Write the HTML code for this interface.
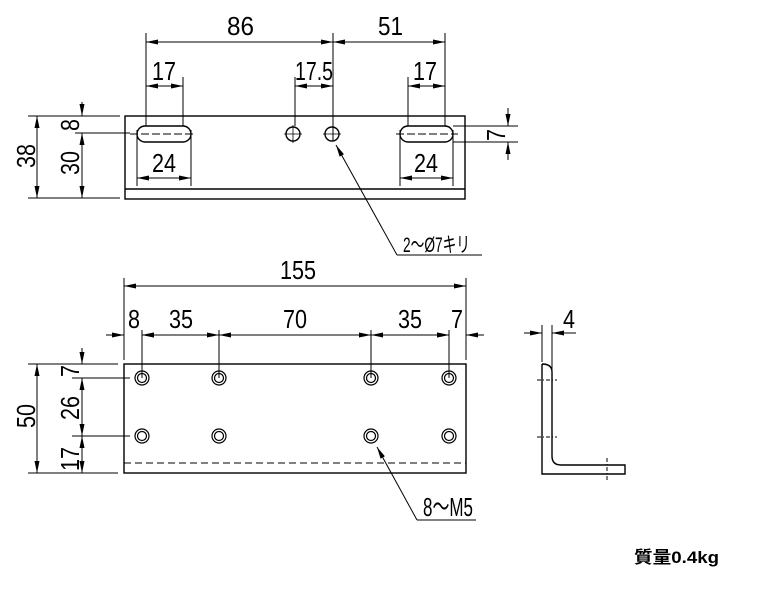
<!DOCTYPE html>
<html><head><meta charset="utf-8"><style>
html,body{margin:0;padding:0;background:#fff;}
svg{display:block}
text{font-family:"Liberation Sans","Noto Sans CJK JP",sans-serif;fill:#000}
</style></head><body>
<svg width="759" height="591" viewBox="0 0 759 591" xmlns="http://www.w3.org/2000/svg">
<defs>
<marker id="a" viewBox="0 0 12 6" refX="12" refY="3" markerWidth="12" markerHeight="6" orient="auto-start-reverse" markerUnits="userSpaceOnUse"><path d="M0,0.5 L12,3 L0,5.5 Z" fill="#000"/></marker>
</defs>
<g stroke="#000" stroke-width="1.4" fill="none">
<rect x="125" y="116" width="340" height="83"/>
<line x1="125" y1="189" x2="465" y2="189"/>
<rect x="137" y="126" width="54" height="16" rx="8"/>
<rect x="400" y="126" width="53" height="16" rx="8"/>
<line x1="130" y1="134" x2="195" y2="134" stroke-dasharray="8,3" stroke-width="1"/>
<line x1="396" y1="134" x2="458" y2="134" stroke-dasharray="8,3" stroke-width="1"/>
<circle cx="293" cy="134" r="7"/><circle cx="332" cy="134" r="7"/>
<g stroke-width="0.8"><line x1="284" y1="134" x2="302" y2="134"/><line x1="293" y1="125" x2="293" y2="143"/><line x1="323" y1="134" x2="341" y2="134"/></g>
<g stroke-width="1">
<line x1="146" y1="33" x2="146" y2="126"/>
<line x1="333" y1="33" x2="333" y2="141"/>
<line x1="445" y1="33" x2="445" y2="126"/>
<line x1="183" y1="77" x2="183" y2="126"/>
<line x1="295" y1="77" x2="295" y2="126"/>
<line x1="408" y1="77" x2="408" y2="126"/>
<line x1="137" y1="130" x2="137" y2="186"/>
<line x1="191" y1="130" x2="191" y2="186"/>
<line x1="400" y1="130" x2="400" y2="186"/>
<line x1="453" y1="130" x2="453" y2="186"/>
<line x1="28" y1="116" x2="120" y2="116"/>
<line x1="28" y1="198" x2="120" y2="198"/>
<line x1="75" y1="133" x2="130" y2="133"/>
<line x1="453" y1="126" x2="518" y2="126"/>
<line x1="453" y1="142" x2="518" y2="142"/>
</g>
<g marker-start="url(#a)" marker-end="url(#a)" stroke-width="1">
<line x1="146" y1="42" x2="333" y2="42"/>
<line x1="333" y1="42" x2="445" y2="42"/>
<line x1="146" y1="86" x2="183" y2="86"/>
<line x1="295" y1="86" x2="333" y2="86"/>
<line x1="408" y1="86" x2="445" y2="86"/>
<line x1="137" y1="178" x2="191" y2="178"/>
<line x1="400" y1="178" x2="453" y2="178"/>
<line x1="37" y1="116" x2="37" y2="198"/>
<line x1="82" y1="133" x2="82" y2="198"/>
</g>
<g stroke-width="1">
<line x1="82" y1="102" x2="82" y2="116" marker-end="url(#a)"/>
<line x1="508" y1="108" x2="508" y2="126" marker-end="url(#a)"/>
<line x1="508" y1="160" x2="508" y2="142" marker-end="url(#a)"/>
<line x1="397" y1="255" x2="336" y2="145" marker-end="url(#a)"/>
<line x1="397" y1="255" x2="482" y2="255"/>
</g>
<rect x="124" y="364" width="342" height="109"/>
<line x1="124" y1="463" x2="466" y2="463" stroke-dasharray="7,4" stroke-width="1"/>
<g stroke-width="1">
<line x1="124" y1="278" x2="124" y2="360"/>
<line x1="466" y1="278" x2="466" y2="360"/>
<line x1="142" y1="330" x2="142" y2="378"/>
<line x1="219" y1="330" x2="219" y2="378"/>
<line x1="371" y1="330" x2="371" y2="378"/>
<line x1="449" y1="330" x2="449" y2="378"/>
<line x1="28" y1="364" x2="118" y2="364"/>
<line x1="28" y1="473" x2="118" y2="473"/>
<line x1="72" y1="378" x2="130" y2="378"/>
<line x1="72" y1="436" x2="130" y2="436"/>
</g>
<g marker-start="url(#a)" marker-end="url(#a)" stroke-width="1">
<line x1="124" y1="286" x2="466" y2="286"/>
<line x1="142" y1="335" x2="219" y2="335"/>
<line x1="219" y1="335" x2="371" y2="335"/>
<line x1="371" y1="335" x2="449" y2="335"/>
<line x1="37" y1="364" x2="37" y2="473"/>
<line x1="82" y1="378" x2="82" y2="436"/>
<line x1="82" y1="436" x2="82" y2="473"/>
</g>
<g stroke-width="1">
<line x1="106" y1="335" x2="124" y2="335" marker-end="url(#a)"/>
<line x1="160" y1="335" x2="142" y2="335" marker-end="url(#a)"/>
<line x1="431" y1="335" x2="449" y2="335" marker-end="url(#a)"/>
<line x1="484" y1="335" x2="466" y2="335" marker-end="url(#a)"/>
<line x1="82" y1="348" x2="82" y2="364" marker-end="url(#a)"/>
<line x1="417" y1="520" x2="377" y2="447" marker-end="url(#a)"/>
<line x1="417" y1="520" x2="476" y2="520"/>
</g>
<g stroke-width="1.2">
<circle cx="142" cy="378" r="7"/><circle cx="142" cy="378" r="4.5"/>
<circle cx="219" cy="378" r="7"/><circle cx="219" cy="378" r="4.5"/>
<circle cx="371" cy="378" r="7"/><circle cx="371" cy="378" r="4.5"/>
<circle cx="449" cy="378" r="7"/><circle cx="449" cy="378" r="4.5"/>
<circle cx="142" cy="436" r="7"/><circle cx="142" cy="436" r="4.5"/>
<circle cx="219" cy="436" r="7"/><circle cx="219" cy="436" r="4.5"/>
<circle cx="371" cy="436" r="7"/><circle cx="371" cy="436" r="4.5"/>
<circle cx="449" cy="436" r="7"/><circle cx="449" cy="436" r="4.5"/>
</g>
<path d="M542,364 L542,474 L625,474 L625,465 L561,465 Q552,465 552,456 L552,372 Q552,364 542,364"/>
<g stroke-width="1">
<line x1="542" y1="325" x2="542" y2="362"/>
<line x1="552" y1="325" x2="552" y2="370"/>
<line x1="524" y1="333" x2="542" y2="333" marker-end="url(#a)"/>
<line x1="576" y1="333" x2="552" y2="333" marker-end="url(#a)"/>
<line x1="537" y1="380" x2="557" y2="380" stroke-dasharray="4,2,1,2"/>
<line x1="537" y1="437" x2="557" y2="437" stroke-dasharray="4,2,1,2"/>
<line x1="607" y1="458" x2="607" y2="480" stroke-dasharray="4,2,1,2"/>
</g>
</g>
<g font-size="26">
<text x="227" y="35" textLength="27" lengthAdjust="spacingAndGlyphs">86</text>
<text x="378" y="35" textLength="25" lengthAdjust="spacingAndGlyphs">51</text>
<text x="152" y="80" textLength="24" lengthAdjust="spacingAndGlyphs">17</text>
<text x="295" y="80" textLength="38" lengthAdjust="spacingAndGlyphs">17.5</text>
<text x="413" y="80" textLength="24" lengthAdjust="spacingAndGlyphs">17</text>
<text x="152" y="172" textLength="24" lengthAdjust="spacingAndGlyphs">24</text>
<text x="414" y="172" textLength="24" lengthAdjust="spacingAndGlyphs">24</text>
<text transform="translate(35,168) rotate(-90)" textLength="24" lengthAdjust="spacingAndGlyphs">38</text>
<text transform="translate(79,175) rotate(-90)" textLength="24" lengthAdjust="spacingAndGlyphs">30</text>
<text transform="translate(79,131) rotate(-90)" textLength="12" lengthAdjust="spacingAndGlyphs">8</text>
<text transform="translate(505,141) rotate(-90)" textLength="12" lengthAdjust="spacingAndGlyphs">7</text>
<text x="403" y="252" font-size="21" textLength="67" lengthAdjust="spacingAndGlyphs">2～Ø7キリ</text>
<text x="280" y="279" textLength="36" lengthAdjust="spacingAndGlyphs">155</text>
<text x="128" y="328" textLength="12" lengthAdjust="spacingAndGlyphs">8</text>
<text x="169" y="328" textLength="24" lengthAdjust="spacingAndGlyphs">35</text>
<text x="283" y="328" textLength="24" lengthAdjust="spacingAndGlyphs">70</text>
<text x="398" y="328" textLength="24" lengthAdjust="spacingAndGlyphs">35</text>
<text x="451" y="328" textLength="12" lengthAdjust="spacingAndGlyphs">7</text>
<text x="563" y="328" textLength="12" lengthAdjust="spacingAndGlyphs">4</text>
<text transform="translate(35,428) rotate(-90)" textLength="24" lengthAdjust="spacingAndGlyphs">50</text>
<text transform="translate(79,420) rotate(-90)" textLength="24" lengthAdjust="spacingAndGlyphs">26</text>
<text transform="translate(79,471) rotate(-90)" textLength="24" lengthAdjust="spacingAndGlyphs">17</text>
<text transform="translate(79,377) rotate(-90)" textLength="12" lengthAdjust="spacingAndGlyphs">7</text>
<text x="423" y="516" textLength="50" lengthAdjust="spacingAndGlyphs">8～M5</text>
</g>
<text x="634" y="563" font-size="17" font-weight="bold" textLength="85" lengthAdjust="spacingAndGlyphs">質量0.4kg</text>
</svg>
</body></html>
